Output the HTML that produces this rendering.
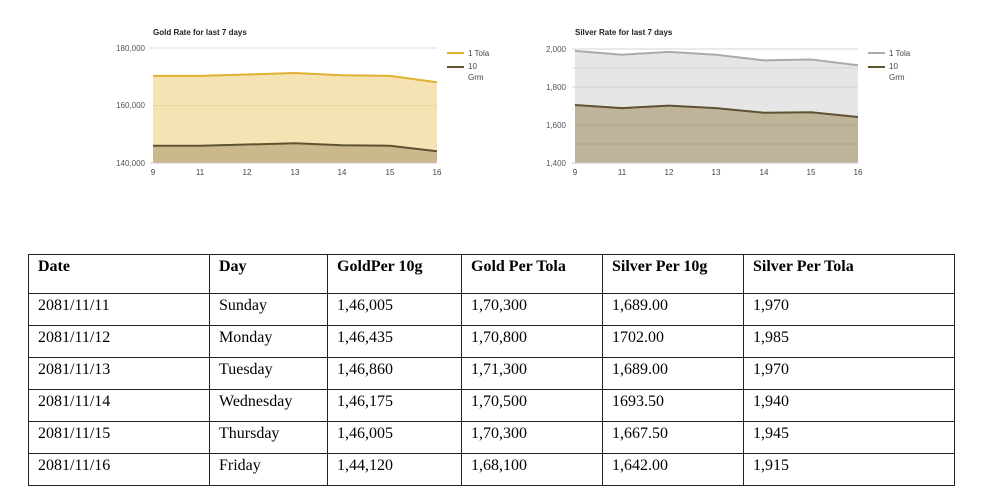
<!DOCTYPE html>
<html><head><style>
body{margin:0;width:1000px;height:498px;background:#fff;overflow:hidden;position:relative}
svg{position:absolute;left:0;top:0}
table{position:absolute;left:28px;top:254px;border-collapse:collapse;font-family:"Liberation Serif",serif;font-size:16px;color:#000}
td{border:1.5px solid #222;padding:3px 0 0 9px;vertical-align:top;height:32px;box-sizing:border-box}
tr.h td{height:39px;font-weight:bold;padding-top:3px}
</style></head><body>
<svg width="1000" height="250" font-family="Liberation Sans,sans-serif">
<text x="153" y="35" font-size="8" font-weight="bold" fill="#222">Gold Rate for last 7 days</text>
<g stroke="#ddd" stroke-width="1"><line x1="150" y1="48" x2="437" y2="48"/></g>
<polygon points="153,75.9 200,75.9 247,74.5 295,73 342,75.3 390,75.9 437,82.2 437,163 153,163" fill="#f5e3b3"/>
<line x1="153" y1="105.5" x2="437" y2="105.5" stroke="#e8d6a0"/>
<polygon points="153,145.7 200,145.7 247,144.5 295,143.3 342,145.2 390,145.7 437,151.2 437,163 153,163" fill="#cbb88c"/>
<polyline points="153,75.9 200,75.9 247,74.5 295,73 342,75.3 390,75.9 437,82.2" fill="none" stroke="#e0b030" stroke-width="2"/>
<polyline points="153,145.7 200,145.7 247,144.5 295,143.3 342,145.2 390,145.7 437,151.2" fill="none" stroke="#5e5230" stroke-width="2"/>
<line x1="150" y1="163" x2="437" y2="163" stroke="#ccc"/>
<g font-size="8" fill="#555" text-anchor="end"><text x="145" y="51">180,000</text><text x="145" y="108">160,000</text><text x="145" y="166">140,000</text></g>
<g font-size="8" fill="#444" text-anchor="middle"><text x="153" y="175">9</text><text x="200" y="175">11</text><text x="247" y="175">12</text><text x="295" y="175">13</text><text x="342" y="175">14</text><text x="390" y="175">15</text><text x="437" y="175">16</text></g>
<line x1="447" y1="53" x2="464" y2="53" stroke="#e0b030" stroke-width="2"/><line x1="447" y1="67" x2="464" y2="67" stroke="#5e5230" stroke-width="2"/>
<g font-size="8" fill="#444"><text x="468" y="56">1 Tola</text><text x="468" y="69">10</text><text x="468" y="80">Grm</text></g>

<text x="575" y="35" font-size="8" font-weight="bold" fill="#222">Silver Rate for last 7 days</text>
<polygon points="575,50.9 622,54.7 669,51.9 716,54.7 764,60.4 811,59.5 858,65.2 858,163 575,163" fill="#e6e6e6"/>
<g stroke="#d4d4d4"><line x1="572" y1="68" x2="858" y2="68"/><line x1="572" y1="87" x2="858" y2="87"/><line x1="572" y1="49" x2="858" y2="49"/></g>
<polygon points="575,105 622,108.1 669,105.6 716,108.1 764,112.7 811,112.3 858,117 858,163 575,163" fill="#bfb49a"/>
<line x1="575" y1="125" x2="858" y2="125" stroke="#b0a488"/><line x1="575" y1="144" x2="858" y2="144" stroke="#b0a488"/>
<polyline points="575,50.9 622,54.7 669,51.9 716,54.7 764,60.4 811,59.5 858,65.2" fill="none" stroke="#aaa" stroke-width="2"/>
<polyline points="575,105 622,108.1 669,105.6 716,108.1 764,112.7 811,112.3 858,117" fill="none" stroke="#5e5230" stroke-width="2"/>
<line x1="572" y1="163" x2="858" y2="163" stroke="#ccc"/>
<g font-size="8" fill="#555" text-anchor="end"><text x="566" y="52">2,000</text><text x="566" y="90">1,800</text><text x="566" y="128">1,600</text><text x="566" y="166">1,400</text></g>
<g font-size="8" fill="#444" text-anchor="middle"><text x="575" y="175">9</text><text x="622" y="175">11</text><text x="669" y="175">12</text><text x="716" y="175">13</text><text x="764" y="175">14</text><text x="811" y="175">15</text><text x="858" y="175">16</text></g>
<line x1="868" y1="53" x2="885" y2="53" stroke="#aaa" stroke-width="2"/><line x1="868" y1="67" x2="885" y2="67" stroke="#5e5230" stroke-width="2"/>
<g font-size="8" fill="#444"><text x="889" y="56">1 Tola</text><text x="889" y="69">10</text><text x="889" y="80">Grm</text></g>
</svg>
<table>
<colgroup><col style="width:181px"><col style="width:118px"><col style="width:134px"><col style="width:141px"><col style="width:141px"><col style="width:211px"></colgroup>
<tr class="h"><td>Date</td><td>Day</td><td>GoldPer 10g</td><td>Gold Per Tola</td><td>Silver Per 10g</td><td>Silver Per Tola</td></tr>
<tr><td>2081/11/11</td><td>Sunday</td><td>1,46,005</td><td>1,70,300</td><td>1,689.00</td><td>1,970</td></tr>
<tr><td>2081/11/12</td><td>Monday</td><td>1,46,435</td><td>1,70,800</td><td>1702.00</td><td>1,985</td></tr>
<tr><td>2081/11/13</td><td>Tuesday</td><td>1,46,860</td><td>1,71,300</td><td>1,689.00</td><td>1,970</td></tr>
<tr><td>2081/11/14</td><td>Wednesday</td><td>1,46,175</td><td>1,70,500</td><td>1693.50</td><td>1,940</td></tr>
<tr><td>2081/11/15</td><td>Thursday</td><td>1,46,005</td><td>1,70,300</td><td>1,667.50</td><td>1,945</td></tr>
<tr><td>2081/11/16</td><td>Friday</td><td>1,44,120</td><td>1,68,100</td><td>1,642.00</td><td>1,915</td></tr>
</table>
</body></html>
